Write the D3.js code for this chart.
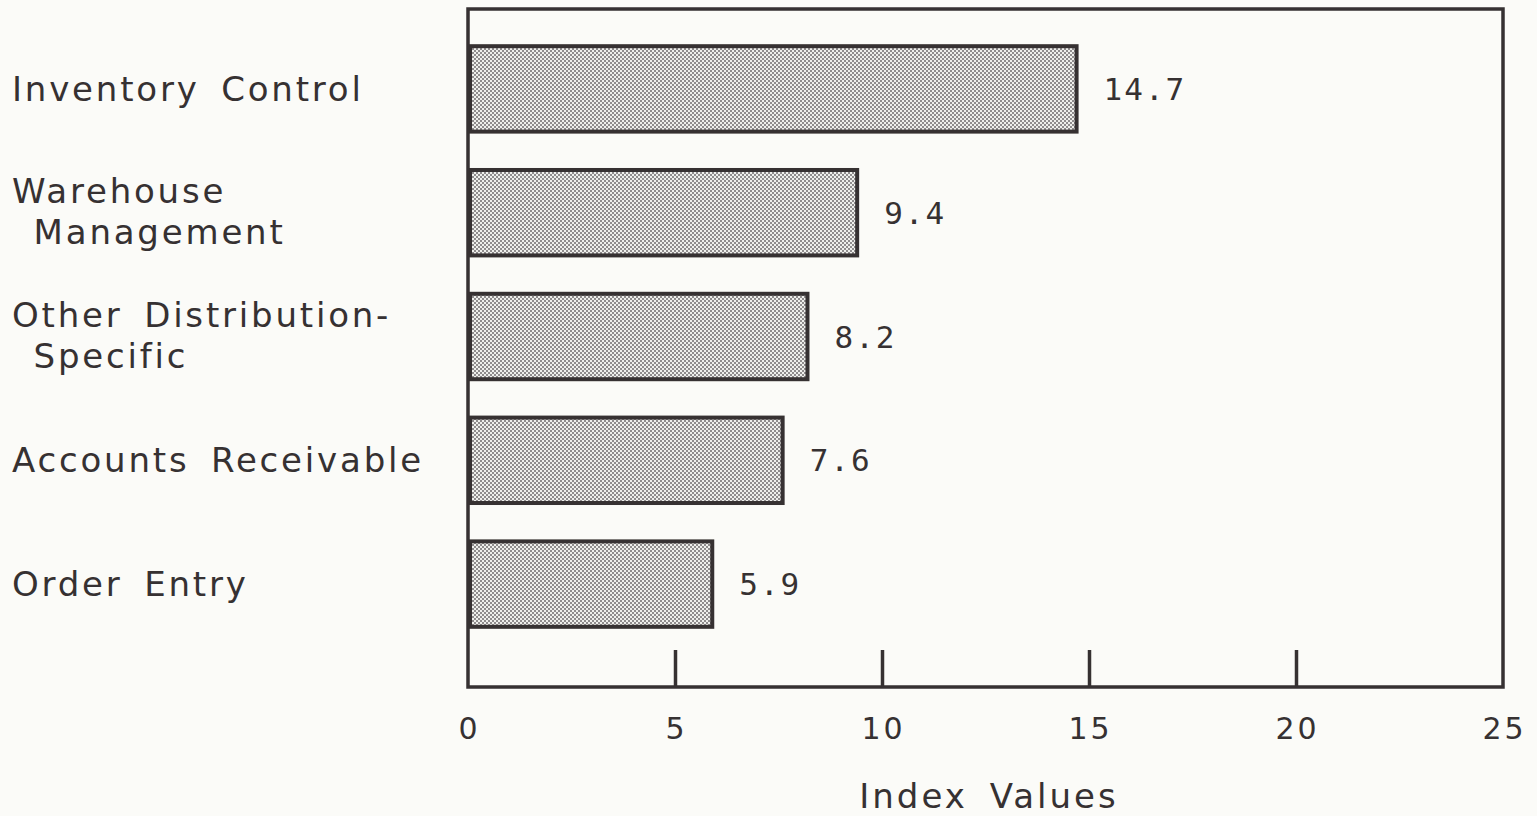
<!DOCTYPE html>
<html>
<head>
<meta charset="utf-8">
<script src="https://cdn.jsdelivr.net/npm/d3@7"></script>
<style>
  html, body { margin: 0; padding: 0; background: #fbfbf8; }
  svg { display: block; }
</style>
</head>
<body>
<svg id="chart" width="1537" height="816"></svg>
<script>
// Category labels (multi-line where the label wraps)
const categories = [
  "Inventory Control",
  "Warehouse Management",
  "Other Distribution-Specific",
  "Accounts Receivable",
  "Order Entry"
];
const labelLines = [
  ["Inventory Control"],
  ["Warehouse", " Management"],
  ["Other Distribution-", " Specific"],
  ["Accounts Receivable"],
  ["Order Entry"]
];
const indexValues = [14.7, 9.4, 8.2, 7.6, 5.9];
const valueLabels = ["14.7", "9.4", "8.2", "7.6", "5.9"];
const tickValues = [0, 5, 10, 15, 20, 25];
const axisTitle = "Index Values";

const ink = "#363132";
const svg = d3.select("#chart");

const plot = { left: 468, right: 1503, top: 9, bottom: 687 };

const x = d3.scaleLinear().domain([0, 25]).range([plot.left, plot.right]);
const y = d3.scaleBand()
  .domain(categories)
  .range([27, 646])
  .paddingInner(0.31)
  .paddingOuter(0.155);

// Stipple fill for the bars
const defs = svg.append("defs");
const pat = defs.append("pattern")
  .attr("id", "stipple")
  .attr("width", 4).attr("height", 4)
  .attr("patternUnits", "userSpaceOnUse");
pat.append("rect").attr("width", 4).attr("height", 4).attr("fill", "#efefec");
pat.append("rect").attr("x", 0).attr("y", 0).attr("width", 2).attr("height", 2).attr("fill", "#8f8c8d");
pat.append("rect").attr("x", 2).attr("y", 2).attr("width", 2).attr("height", 2).attr("fill", "#8f8c8d");

// Bars
svg.append("g").selectAll("rect")
  .data(categories)
  .join("rect")
  .attr("x", x(0) + 2)
  .attr("y", d => y(d))
  .attr("width", (d, i) => x(indexValues[i]) - x(0) - 2)
  .attr("height", y.bandwidth())
  .attr("fill", "url(#stipple)")
  .attr("stroke", ink)
  .attr("stroke-width", 4);

// Value labels
svg.append("g").selectAll("text")
  .data(categories)
  .join("text")
  .attr("x", (d, i) => x(indexValues[i]) + 27)
  .attr("y", d => y(d) + y.bandwidth() / 2 + 11)
  .attr("font-family", "'DejaVu Sans Mono', monospace")
  .attr("font-size", 31)
  .attr("letter-spacing", 2)
  .attr("fill", ink)
  .text((d, i) => valueLabels[i]);

// Category labels
const catG = svg.append("g")
  .attr("font-family", "'DejaVu Sans', sans-serif")
  .attr("font-size", 34)
  .attr("letter-spacing", 2.8)
  .attr("word-spacing", 8)
  .attr("fill", ink);
categories.forEach((c, i) => {
  const lines = labelLines[i];
  const cy = y(c) + y.bandwidth() / 2;
  const t = catG.append("text")
    .attr("x", 12)
    .attr("y", lines.length === 1 ? cy + 12 : cy - 10)
    .attr("xml:space", "preserve");
  lines.forEach((ln, k) => {
    t.append("tspan")
      .attr("x", 12)
      .attr("dy", k === 0 ? 0 : 41)
      .text(ln);
  });
});

// Frame
svg.append("rect")
  .attr("x", plot.left).attr("y", plot.top)
  .attr("width", plot.right - plot.left)
  .attr("height", plot.bottom - plot.top)
  .attr("fill", "none")
  .attr("stroke", ink)
  .attr("stroke-width", 3.5);

// Bottom axis: inward ticks, labels below
const axis = d3.axisBottom(x)
  .tickValues(tickValues)
  .tickSize(0)
  .tickPadding(0)
  .tickFormat(d3.format("d"));
const axG = svg.append("g")
  .attr("transform", `translate(0,${plot.bottom})`)
  .call(axis);
axG.select(".domain").remove();
axG.selectAll(".tick text")
  .attr("x", 1)
  .attr("y", 52)
  .attr("dy", 0)
  .attr("font-family", "'DejaVu Sans', sans-serif")
  .attr("font-size", 30)
  .attr("letter-spacing", 3)
  .attr("fill", ink);
axG.selectAll(".tick")
  .filter(d => d > 0 && d < 25)
  .append("line")
  .attr("y1", 0).attr("y2", -37)
  .attr("stroke", ink)
  .attr("stroke-width", 3.5);

// Axis title
svg.append("text")
  .attr("x", 989)
  .attr("y", 808)
  .attr("text-anchor", "middle")
  .attr("font-family", "'DejaVu Sans', sans-serif")
  .attr("font-size", 34)
  .attr("letter-spacing", 3)
  .attr("word-spacing", 8)
  .attr("fill", ink)
  .text(axisTitle);
</script>
</body>
</html>
